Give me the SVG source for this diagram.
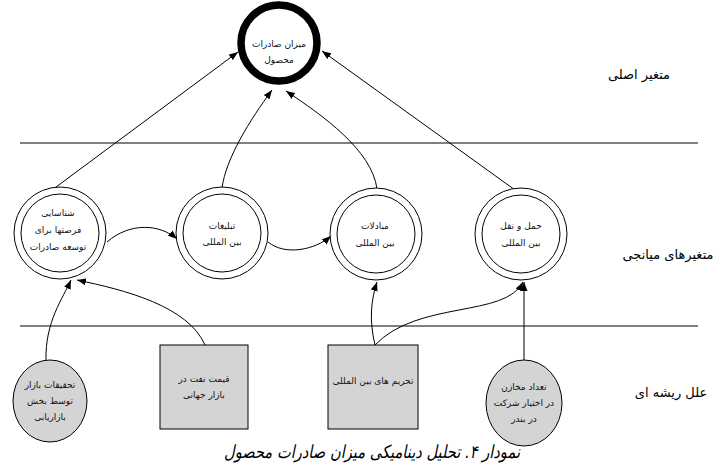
<svg xmlns="http://www.w3.org/2000/svg" width="718" height="471" viewBox="0 0 718 471">
<style>
.t{font-family:"DejaVu Sans",sans-serif;font-size:9px;fill:#111;text-anchor:middle;direction:rtl;unicode-bidi:embed}
.lbl{font-family:"DejaVu Sans",sans-serif;font-size:13px;fill:#000;text-anchor:middle;direction:rtl;unicode-bidi:embed}
.cap{font-family:"DejaVu Sans",sans-serif;font-size:18px;font-style:italic;fill:#000;text-anchor:middle;direction:rtl;unicode-bidi:embed}
.ring{fill:#fff;stroke:#000;stroke-width:1}
.root{fill:#d4d4d4;stroke:#000;stroke-width:1}
.edge{fill:none;stroke:#000;stroke-width:1;marker-end:url(#ah)}
.sep{stroke:#000;stroke-width:1}
</style>
<defs>
<marker id="ah" markerUnits="userSpaceOnUse" markerWidth="9" markerHeight="7" refX="9" refY="3.5" orient="auto">
<path d="M0,0 L9,3.5 L0,7 z" fill="#000"/>
</marker>
</defs>
<rect width="718" height="471" fill="#fff"/>
<line class="sep" x1="20" y1="143" x2="698" y2="143"/>
<line class="sep" x1="20" y1="326" x2="698" y2="326" stroke="#555"/>
<text class="lbl" x="639" y="79">متغیر اصلی</text>
<text class="lbl" x="668" y="259">متغیرهای میانجی</text>
<text class="lbl" x="671" y="397">علل ریشه ای</text>
<g id="connectors">
<path class="edge" d="M52,190 L238,52"/>
<path class="edge" d="M222,188 C226,158 250,120 272,90"/>
<path class="edge" d="M377,189 C372,150 322,115 286,91"/>
<path class="edge" d="M522,195 L322,51"/>
<path class="edge" d="M107,242 C130,222 160,224 177,239"/>
<path class="edge" d="M268,242 C285,256 315,250 331,236"/>
<path class="edge" d="M46,360 C45,322 63,298 71,280"/>
<path class="edge" d="M205,345 C188,306 125,290 77,280"/>
<path class="edge" d="M375,345 C369,320 371,300 377,282"/>
<path class="edge" d="M375,345 C418,300 505,318 523,282"/>
<path class="edge" d="M524,360 L524,282"/>
</g>
<g id="n-main">
<circle cx="279" cy="43" r="38" fill="#fff" stroke="#000" stroke-width="7.5"/>
<text class="t" x="279" y="47" font-size="10">میزان صادرات</text>
<text class="t" x="279" y="63" font-size="10">محصول</text>
</g>
<g id="n-opp">
<circle class="ring" cx="60" cy="233" r="46"/>
<circle class="ring" cx="60" cy="233" r="39"/>
<text class="t" x="58" y="216">شناسایی</text>
<text class="t" x="58" y="233">فرصتها برای</text>
<text class="t" x="58" y="250">توسعه صادرات</text>
</g>
<g id="n-adv">
<circle class="ring" cx="222" cy="233" r="46"/>
<circle class="ring" cx="222" cy="233" r="39"/>
<text class="t" x="222" y="229">تبلیغات</text>
<text class="t" x="222" y="245">بین المللی</text>
</g>
<g id="n-trade">
<circle class="ring" cx="376" cy="234" r="46"/>
<circle class="ring" cx="376" cy="234" r="39"/>
<text class="t" x="375" y="229">مبادلات</text>
<text class="t" x="375" y="246">بین المللی</text>
</g>
<g id="n-trans">
<circle class="ring" cx="521" cy="234" r="46"/>
<circle class="ring" cx="521" cy="234" r="39"/>
<text class="t" x="521" y="229">حمل و نقل</text>
<text class="t" x="521" y="246">بین المللی</text>
</g>
<g id="n-research">
<ellipse class="root" cx="50" cy="401" rx="37" ry="41"/>
<text class="t" x="50" y="388">تحقیقات بازار</text>
<text class="t" x="50" y="404">توسط بخش</text>
<text class="t" x="50" y="420">بازاریابی</text>
</g>
<g id="n-oil">
<rect class="root" x="160" y="345" width="88" height="84"/>
<text class="t" x="204" y="382">قیمت نفت در</text>
<text class="t" x="204" y="398">بازار جهانی</text>
</g>
<g id="n-sanction">
<rect class="root" x="328" y="345" width="90" height="84"/>
<text class="t" x="373" y="384" font-size="9.5">تحریم های بین المللی</text>
</g>
<g id="n-tanks">
<ellipse class="root" cx="524" cy="403" rx="38" ry="43"/>
<text class="t" x="524" y="390">تعداد مخازن</text>
<text class="t" x="524" y="406">در اختیار شرکت</text>
<text class="t" x="524" y="422">در بندر</text>
</g>
<text class="cap" x="372" y="458" textLength="296" lengthAdjust="spacingAndGlyphs">نمودار ۴. تحلیل دینامیکی میزان صادرات محصول</text>
</svg>
